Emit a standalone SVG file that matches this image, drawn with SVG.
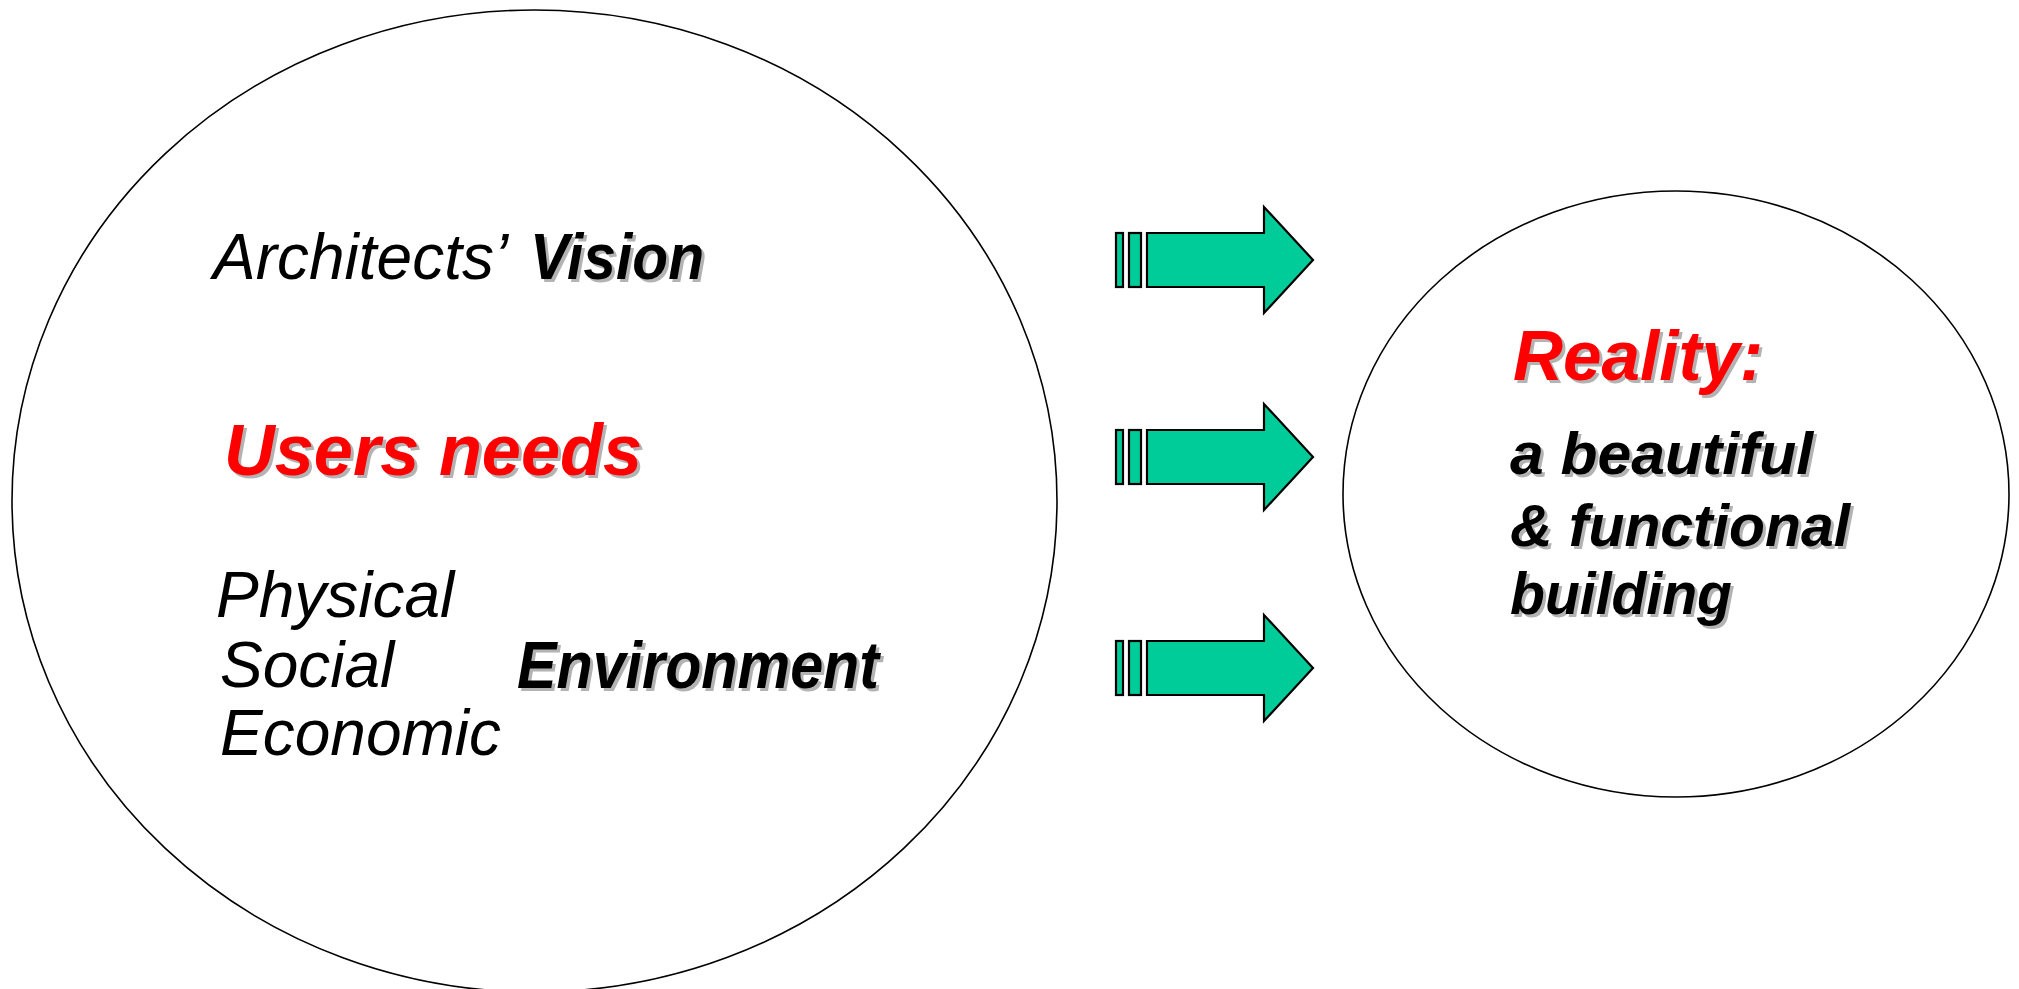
<svg xmlns="http://www.w3.org/2000/svg" xmlns:xlink="http://www.w3.org/1999/xlink" width="2019" height="989" viewBox="0 0 2019 989">
<style>
.oval{fill:#fff;stroke:#000;stroke-width:1.6}
.t{font-family:"Liberation Sans",Arial,sans-serif;font-style:italic}
.r{font-weight:normal;fill:#000}
.b{font-weight:bold;fill:#000}
.red{font-weight:bold;fill:#ff0000}
.sh{font-weight:bold;fill:#b3b3b3}
.arr{fill:#00cc99;stroke:#000;stroke-width:2.2;stroke-linejoin:miter}
</style>
<defs>
<g id="arrowShape">
<rect class="arr" x="1116" y="-27" width="7" height="54"/>
<rect class="arr" x="1129" y="-27" width="12" height="54"/>
<polygon class="arr" points="1147,-27 1264,-27 1264,-53 1313,0 1264,53 1264,27 1147,27"/>
</g>
</defs>
<rect width="2019" height="989" fill="#fff"/>
<g id="left-node">
<ellipse class="oval" cx="534.5" cy="501" rx="522.5" ry="491"/>
<text class="t r" x="213" y="279" font-size="64">Architects’</text>
<text class="t sh" x="533" y="282" font-size="64" textLength="174" lengthAdjust="spacingAndGlyphs">Vision</text>
<text class="t b" x="530" y="279" font-size="64" textLength="174" lengthAdjust="spacingAndGlyphs">Vision</text>
<text class="t sh" x="227" y="478" font-size="72" textLength="418" lengthAdjust="spacingAndGlyphs">Users needs</text>
<text class="t red" x="224" y="475" font-size="72" textLength="418" lengthAdjust="spacingAndGlyphs">Users needs</text>
<text class="t r" x="216" y="617" font-size="64">Physical</text>
<text class="t r" x="220" y="687" font-size="64">Social</text>
<text class="t r" x="220" y="755" font-size="64">Economic</text>
<text class="t sh" x="520" y="691" font-size="66" textLength="362" lengthAdjust="spacingAndGlyphs">Environment</text>
<text class="t b" x="517" y="688" font-size="66" textLength="362" lengthAdjust="spacingAndGlyphs">Environment</text>
</g>
<g id="right-node">
<ellipse class="oval" cx="1676" cy="494" rx="333" ry="303"/>
<text class="t sh" x="1516" y="383" font-size="70" textLength="250" lengthAdjust="spacingAndGlyphs">Reality:</text>
<text class="t red" x="1513" y="380" font-size="70" textLength="250" lengthAdjust="spacingAndGlyphs">Reality:</text>
<text class="t sh" x="1513" y="477" font-size="60" textLength="303" lengthAdjust="spacingAndGlyphs">a beautiful</text>
<text class="t b" x="1510" y="474" font-size="60" textLength="303" lengthAdjust="spacingAndGlyphs">a beautiful</text>
<text class="t sh" x="1513" y="549" font-size="60" textLength="340" lengthAdjust="spacingAndGlyphs">&amp; functional</text>
<text class="t b" x="1510" y="546" font-size="60" textLength="340" lengthAdjust="spacingAndGlyphs">&amp; functional</text>
<text class="t sh" x="1513" y="617" font-size="60" textLength="222" lengthAdjust="spacingAndGlyphs">building</text>
<text class="t b" x="1510" y="614" font-size="60" textLength="222" lengthAdjust="spacingAndGlyphs">building</text>
</g>
<g id="connectors">
<use xlink:href="#arrowShape" transform="translate(0,260)"/>
<use xlink:href="#arrowShape" transform="translate(0,457)"/>
<use xlink:href="#arrowShape" transform="translate(0,668)"/>
</g>
</svg>
